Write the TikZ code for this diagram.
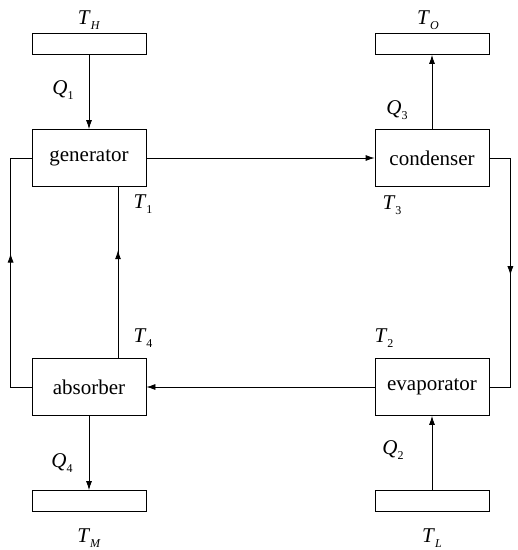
\documentclass[tikz,border=0pt]{standalone}
\usepackage{fontspec}
\setmainfont{Liberation Serif}
\usetikzlibrary{arrows.meta,decorations.markings}
\tikzset{
  unit/.style={draw, minimum width=114pt, minimum height=57pt, inner sep=0pt, font=\fontsize{21}{25}\selectfont},
  bath/.style={draw, minimum width=114pt, minimum height=21pt, inner sep=0pt},
  lab/.style={font=\fontsize{21}{25}\selectfont, inner sep=0pt},
  tip/.style={-{Latex[length=9pt,width=6pt]}},
  midtip/.style={decoration={markings, mark=at position #1 with {\arrow{Latex[length=9pt,width=6pt]}}}, postaction={decorate}}
}
\newcommand{\lbl}[2]{\textit{#1}\raisebox{-5pt}{\fontsize{12}{12}\selectfont #2}}
\begin{document}
\begin{tikzpicture}[x=1pt, y=-1pt, line width=0.8pt]
    \useasboundingbox (0,0) rectangle (518,550);
    % four units
    \node[unit] (gen) at (89,158) {generator};
    \node[unit] (cond) at (432,158) {condenser};
    \node[unit] (abs) at (89,387) {absorber};
    \node[unit] (evap) at (432,387) {evaporator};
    % heat baths
    \node[bath] (bH) at (89,44) {};
    \node[bath] (bO) at (432,44) {};
    \node[bath] (bM) at (89,501) {};
    \node[bath] (bL) at (432,501) {};
    \node[lab] at (89,20) {\lbl{T}{\textit{H}}};
    \node[lab] at (428,20) {\lbl{T}{\textit{O}}};
    \node[lab] at (89,538) {\lbl{T}{\textit{M}}};
    \node[lab] at (432,538) {\lbl{T}{\textit{L}}};
    % heat flows
    \draw[tip] (bH) -- (gen);
    \draw[tip] (cond) -- (bO);
    \draw[tip] (abs) -- (bM);
    \draw[tip] (bL) -- (evap);
    \node[lab] at (63,90) {\lbl{Q}{1}};
    \node[lab] at (397,110) {\lbl{Q}{3}};
    \node[lab] at (62,463) {\lbl{Q}{4}};
    \node[lab] at (393,450) {\lbl{Q}{2}};
    % working fluid loops
    \draw[tip] (gen) -- (cond);
    \draw[tip] (evap) -- (abs);
    \draw[midtip=0.51] (cond.east) -- ++(21,0) |- (evap.east);
    \draw[midtip=0.57] (abs.west) -- ++(-21,0) |- (gen.west);
    \draw[midtip=0.63] ([xshift=29pt]abs.north) -- ([xshift=29pt]gen.south);
    \node[lab] at (143,204) {\lbl{T}{1}};
    \node[lab] at (143,338) {\lbl{T}{4}};
    \node[lab] at (392,205) {\lbl{T}{3}};
    \node[lab] at (384,338) {\lbl{T}{2}};
\end{tikzpicture}
\end{document}
